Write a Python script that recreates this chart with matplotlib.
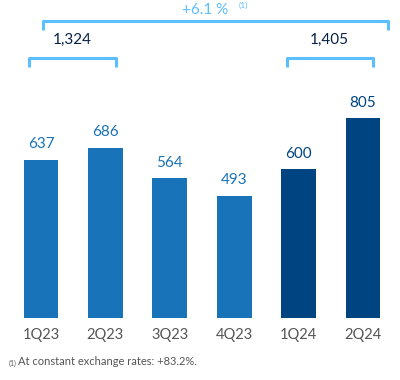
import matplotlib.pyplot as plt

# Data
quarters = ['1Q23', '2Q23', '3Q23', '4Q23', '1Q24', '2Q24']
values = [637, 686, 564, 493, 600, 805]
bar_colors = ['#1973B8'] * 4 + ['#004481'] * 2
label_colors = ['#1973B8'] * 4 + ['#004481'] * 2
half_year_totals = ['1,324', '1,405']
growth_label = '+6.1 %'
footnote = 'At constant exchange rates: +83.2%.'

plt.rcParams['font.family'] = ['Lato', 'DejaVu Sans']

fig = plt.figure(figsize=(4, 3.8), dpi=100)
ax = fig.add_axes([0, 0, 1, 1])
ax.set_xlim(-0.637, 5.575)
ax.set_ylim(-249.6, 1280)
ax.axis('off')

x = list(range(len(values)))
ax.bar(x, values, width=0.54, color=bar_colors)

for xi, v, c in zip(x, values, label_colors):
    ax.annotate(str(v), (xi, v), xytext=(0, 6), textcoords='offset points',
                ha='center', va='bottom', fontsize=11, color=c)

for xi, q in zip(x, quarters):
    ax.text(xi, -68, q, ha='center', va='center', fontsize=10.5, color='#555555')

bracket_col = '#5BBEFF'


def bracket(x0, x1, y, drop, lw=2.2):
    ax.plot([x0, x0, x1, x1], [y - drop, y, y, y - drop], color=bracket_col,
            lw=lw, solid_capstyle='butt', clip_on=False)


# half-year brackets
bracket(0 - 0.18, 1 + 0.17, 1047, 37)
bracket(4 - 0.18, 5 + 0.16, 1047, 37)
ax.text(0.48, 1118, half_year_totals[0], ha='center', va='center', fontsize=11, color='#072146')
ax.text(4.48, 1118, half_year_totals[1], ha='center', va='center', fontsize=11, color='#072146')

# year-on-year bracket
bracket(0 + 0.03, 5 + 0.39, 1196, 37)
ax.text(2.55, 1240, growth_label, ha='center', va='center', fontsize=11, color=bracket_col)
ax.text(3.07, 1258, '(1)', ha='left', va='center', fontsize=6, color=bracket_col)

# footnote
ax.text(-0.5, -183, '(1)', ha='left', va='center', fontsize=5, color='#555555')
ax.text(-0.36, -177, footnote, ha='left', va='center', fontsize=8, color='#555555')

fig.savefig('out.png', dpi=100)
